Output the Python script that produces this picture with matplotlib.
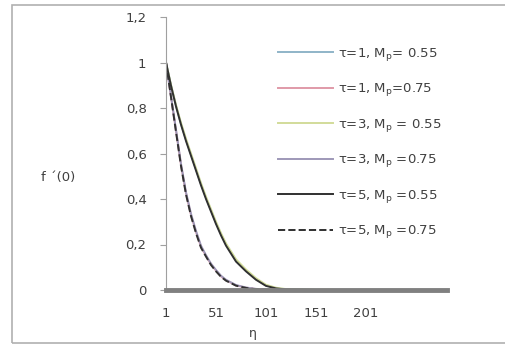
import numpy as np
import matplotlib.pyplot as plt
from matplotlib.patches import Rectangle

plt.rcParams['font.family'] = ['DejaVu Sans']
plt.rcParams['mathtext.default'] = 'regular'

# eta samples and f'(eta)
eta = [1, 6, 11, 16, 21, 26, 31, 36, 41, 46, 51, 56, 61, 71, 81, 91, 101, 111, 121, 151, 201, 251, 282]

t1_055 = [1.0, 0.90, 0.81, 0.73, 0.66, 0.595, 0.53, 0.465, 0.405, 0.35, 0.295, 0.245, 0.2, 0.13, 0.085, 0.048, 0.02, 0.008, 0.003, 0.0, 0.0, 0.0, 0.0]
t1_075 = [1.0, 0.85, 0.70, 0.55, 0.425, 0.33, 0.255, 0.19, 0.15, 0.113, 0.085, 0.06, 0.043, 0.02, 0.01, 0.004, 0.001, 0.0, 0.0, 0.0, 0.0, 0.0, 0.0]
t3_055 = [1.0, 0.902, 0.813, 0.735, 0.665, 0.60, 0.535, 0.47, 0.41, 0.355, 0.30, 0.25, 0.205, 0.135, 0.09, 0.052, 0.023, 0.01, 0.004, 0.001, 0.0, 0.0, 0.0]
t3_075 = [1.0, 0.852, 0.705, 0.555, 0.43, 0.335, 0.26, 0.195, 0.153, 0.116, 0.088, 0.063, 0.045, 0.022, 0.011, 0.005, 0.002, 0.0, 0.0, 0.0, 0.0, 0.0, 0.0]
t5_055 = [1.0, 0.898, 0.807, 0.727, 0.655, 0.59, 0.525, 0.46, 0.40, 0.345, 0.29, 0.24, 0.195, 0.125, 0.082, 0.045, 0.018, 0.007, 0.002, 0.0, 0.0, 0.0, 0.0]
t5_075 = [1.0, 0.848, 0.695, 0.545, 0.42, 0.325, 0.25, 0.186, 0.147, 0.11, 0.082, 0.058, 0.041, 0.019, 0.009, 0.003, 0.001, 0.0, 0.0, 0.0, 0.0, 0.0, 0.0]

labels = ["τ=1, M$_p$= 0.55", "τ=1, M$_p$=0.75", "τ=3, M$_p$ = 0.55",
          "τ=3, M$_p$ =0.75", "τ=5, M$_p$ =0.55", "τ=5, M$_p$ =0.75"]
series = [t1_055, t1_075, t3_055, t3_075, t5_055, t5_075]
colors = ['#8fb4c8', '#e09aa8', '#d2dc9a', '#9e98b8', '#303030', '#303030']
styles = ['-', '-', '-', '-', '-', '--']

x_ticks = [1, 51, 101, 151, 201]
y_ticks = [0, 0.2, 0.4, 0.6, 0.8, 1.0, 1.2]
y_ticklabels = ['0', '0,2', '0,4', '0,6', '0,8', '1', '1,2']

fig = plt.figure(figsize=(5.05, 3.45), dpi=100)
fig.patches.append(Rectangle((12 / 505, 2 / 345), 520 / 505, 338 / 345,
                             transform=fig.transFigure, fill=False,
                             edgecolor='#b0b0b0', linewidth=1.2))

ax = fig.add_axes([166 / 505, 1 - 290 / 345, 281 / 505, 273 / 345])

for y, lab, c, ls in zip(series, labels, colors, styles):
    ax.plot(eta, y, color=c, linestyle=ls, linewidth=1.4, label=lab)

ax.set_xlim(1, 282)
ax.set_ylim(0, 1.2)
ax.set_xticks(x_ticks)
ax.set_xticklabels([str(v) for v in x_ticks])
ax.set_yticks(y_ticks)
ax.set_yticklabels(y_ticklabels)

for side in ['top', 'right']:
    ax.spines[side].set_visible(False)
ax.spines['left'].set_color('#a0a0a0')
ax.spines['bottom'].set_color('#808080')
ax.spines['bottom'].set_linewidth(3.5)
ax.tick_params(axis='y', length=4, color='#a0a0a0', labelsize=9.5,
               labelcolor='#404040', pad=10)
ax.tick_params(axis='x', length=0, labelsize=9.5, labelcolor='#404040', pad=12)

fig.text(253 / 505, 1 - 333 / 345, 'η', fontsize=9, color='#404040',
         ha='center', va='center')
fig.text(58 / 505, 1 - 177 / 345, 'f ΄(0)', fontsize=9.5, color='#404040',
         ha='center', va='center')

ax.legend(loc='upper left', bbox_to_anchor=(266 / 505, 1 - 34 / 345),
          bbox_transform=fig.transFigure, frameon=False, fontsize=9.5,
          handlelength=4.2, handletextpad=0.35, labelspacing=1.4,
          labelcolor='#404040')

fig.savefig('out.png', dpi=100)
